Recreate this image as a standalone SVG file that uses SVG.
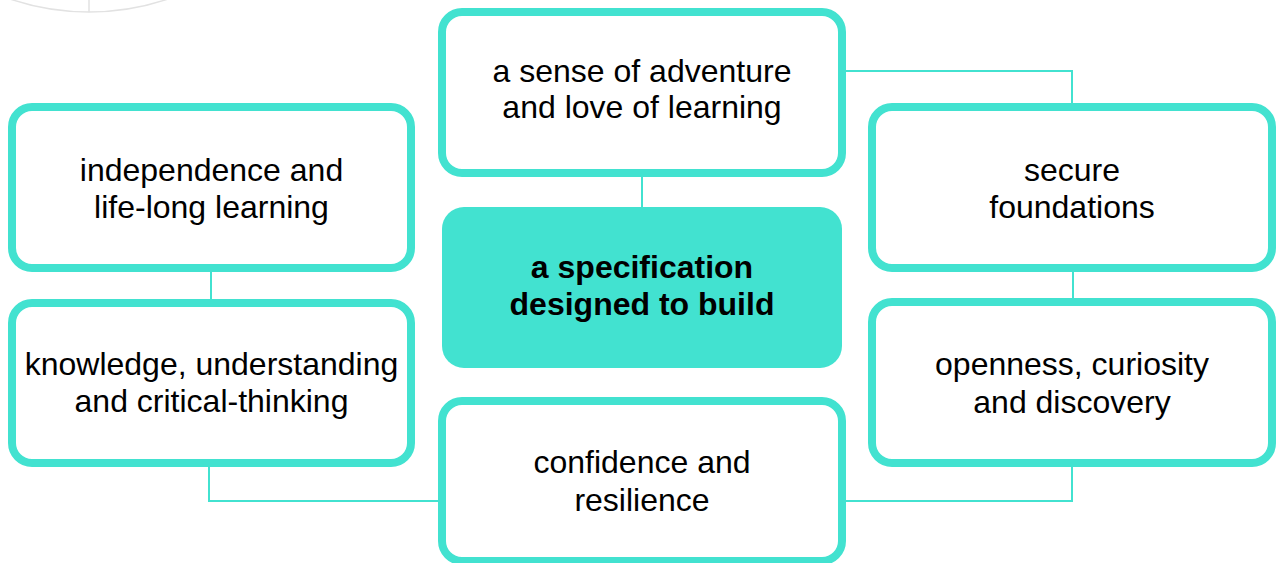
<svg xmlns="http://www.w3.org/2000/svg" width="1277" height="563" viewBox="0 0 1277 563">
  <style>
    .box { fill: #ffffff; stroke: #42E2D0; stroke-width: 8; }
    .core { fill: #42E2D0; stroke: none; }
    .conn { fill: none; stroke: #42E2D0; stroke-width: 2; }
    text { font-family: "Liberation Sans", Arial, sans-serif; font-size: 32px; fill: #000000; text-anchor: middle; }
    .bold { font-weight: bold; }
  </style>
  <rect width="1277" height="563" fill="#ffffff"/>
  <g id="decoration">
    <circle cx="89" cy="-235" r="247" fill="none" stroke="#e2e2e2" stroke-width="1.5"/>
    <line x1="89" y1="0" x2="89" y2="12" stroke="#e2e2e2" stroke-width="1.5"/>
  </g>
  <g id="connectors">
    <polyline class="conn" points="846,71 1072,71 1072,103"/>
    <line class="conn" x1="642" y1="177" x2="642" y2="208"/>
    <line class="conn" x1="211" y1="272" x2="211" y2="299"/>
    <line class="conn" x1="1073" y1="272" x2="1073" y2="299"/>
    <polyline class="conn" points="209,467 209,501 438,501"/>
    <polyline class="conn" points="1072,467 1072,501 846,501"/>
  </g>
  <g id="node-adventure">
    <rect class="box" x="442" y="12" width="400" height="161" rx="20"/>
    <text x="642" y="82">a sense of adventure</text>
    <text x="642" y="118">and love of learning</text>
  </g>
  <g id="node-independence">
    <rect class="box" x="12" y="107" width="399" height="161" rx="20"/>
    <text x="211.5" y="181">independence and</text>
    <text x="211.5" y="218">life-long learning</text>
  </g>
  <g id="node-secure">
    <rect class="box" x="872" y="107" width="400" height="161" rx="20"/>
    <text x="1072" y="181">secure</text>
    <text x="1072" y="218">foundations</text>
  </g>
  <g id="node-core">
    <rect class="core" x="442" y="207" width="400" height="161" rx="22"/>
    <text class="bold" x="642" y="278">a specification</text>
    <text class="bold" x="642" y="315">designed to build</text>
  </g>
  <g id="node-knowledge">
    <rect class="box" x="12" y="303" width="399" height="160" rx="20"/>
    <text x="211.5" y="375">knowledge, understanding</text>
    <text x="211.5" y="412">and critical-thinking</text>
  </g>
  <g id="node-openness">
    <rect class="box" x="872" y="302" width="400" height="161" rx="20"/>
    <text x="1072" y="375">openness, curiosity</text>
    <text x="1072" y="413">and discovery</text>
  </g>
  <g id="node-confidence">
    <rect class="box" x="442" y="401" width="400" height="160" rx="20"/>
    <text x="642" y="473">confidence and</text>
    <text x="642" y="511">resilience</text>
  </g>
</svg>
